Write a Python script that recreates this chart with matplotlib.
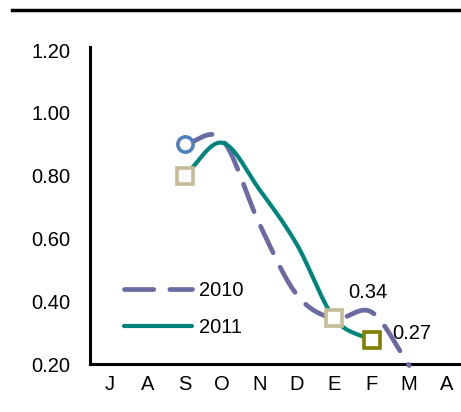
import matplotlib
matplotlib.use("Agg")
import matplotlib.pyplot as plt
import numpy as np

months = ["J", "A", "S", "O", "N", "D", "E", "F", "M", "A"]
# values (index positions of the months)
x_2010 = [2, 3, 4, 5, 6, 7, 8]
y_2010 = [0.90, 0.915, 0.645, 0.42, 0.345, 0.365, 0.195]
x_2011 = [2, 3, 4, 5, 6, 7]
y_2011 = [0.80, 0.905, 0.755, 0.58, 0.345, 0.275]
point_labels = ["0.34", "0.27"]
yticks = [0.20, 0.40, 0.60, 0.80, 1.00, 1.20]


def smooth(xs, ys, n=40):
    # Catmull-Rom spline, similar to Excel's smoothed line
    xs = np.asarray(xs, float)
    ys = np.asarray(ys, float)
    px = np.concatenate([[2 * xs[0] - xs[1]], xs, [2 * xs[-1] - xs[-2]]])
    py = np.concatenate([[2 * ys[0] - ys[1]], ys, [2 * ys[-1] - ys[-2]]])
    ox, oy = [], []
    t = np.linspace(0, 1, n)
    for i in range(1, len(px) - 2):
        for p, out in ((px, ox), (py, oy)):
            p0, p1, p2, p3 = p[i - 1], p[i], p[i + 1], p[i + 2]
            out.extend(0.5 * (2 * p1 + (-p0 + p2) * t
                              + (2 * p0 - 5 * p1 + 4 * p2 - p3) * t ** 2
                              + (-p0 + 3 * p1 - 3 * p2 + p3) * t ** 3))
    return np.array(ox), np.array(oy)


plt.rcParams['font.family'] = ['Liberation Sans', 'DejaVu Sans']
plt.rcParams['font.size'] = 14.5

fig = plt.figure(figsize=(4.61, 4.12), dpi=100)
ax = fig.add_axes([90 / 461, 1 - 364 / 412, 1 - 90 / 461, (364 - 47) / 412])

purple = "#6b6aa3"
teal = "#00857d"

sx, sy = smooth(x_2010, y_2010)
ax.plot(sx, sy, color=purple, lw=3.4, dashes=(6.2, 3.4), dash_capstyle='round',
        label="2010", clip_on=False, zorder=3)
tx, ty = smooth(x_2011, y_2011)
ax.plot(tx, ty, color=teal, lw=3.0, solid_capstyle='round', label="2011", zorder=3)

# highlighted points
ax.plot(x_2010[0], y_2010[0], 'o', ms=11, mfc='white', mec="#4f81bd", mew=2.6, zorder=4)
ax.plot(x_2011[0], y_2011[0], 's', ms=12, mfc='white', mec="#c4bd97", mew=2.6, zorder=4)
ax.plot(x_2011[4], y_2011[4], 's', ms=12, mfc='white', mec="#c4bd97", mew=2.6, zorder=4)
ax.plot(x_2011[5], y_2011[5], 's', ms=12, mfc='white', mec="#7f7f00", mew=2.6, zorder=4)

ax.annotate(point_labels[0], (x_2011[4], y_2011[4]), xytext=(24, 19),
            textcoords='offset points', ha='center', va='center')
ax.annotate(point_labels[1], (x_2011[5], y_2011[5]), xytext=(29, 5),
            textcoords='offset points', ha='center', va='center')

ax.set_xlim(-0.535, 9.385)
ax.set_ylim(0.20, 1.21)
ax.set_xticks(range(len(months)))
ax.set_xticklabels(months)
ax.set_yticks(yticks)
ax.set_yticklabels(["%.2f" % v for v in yticks])
ax.tick_params(length=0)
ax.tick_params(axis='y', pad=14)
ax.tick_params(axis='x', pad=8)
for s in ['top', 'right']:
    ax.spines[s].set_visible(False)
for s in ['left', 'bottom']:
    ax.spines[s].set_linewidth(2.2)

ax.legend(loc='upper left', bbox_to_anchor=(124 / 461, 1 - 281 / 412),
          bbox_transform=fig.transFigure, frameon=False, borderpad=0,
          handlelength=3.4, handletextpad=0.3, labelspacing=0.9, borderaxespad=0)

# rule under the (cut-off) heading
fig.add_artist(plt.Line2D([12 / 461, 1], [1 - 10 / 412] * 2, color='black', lw=2.5,
                          transform=fig.transFigure))

fig.savefig("out.png", dpi=100)
